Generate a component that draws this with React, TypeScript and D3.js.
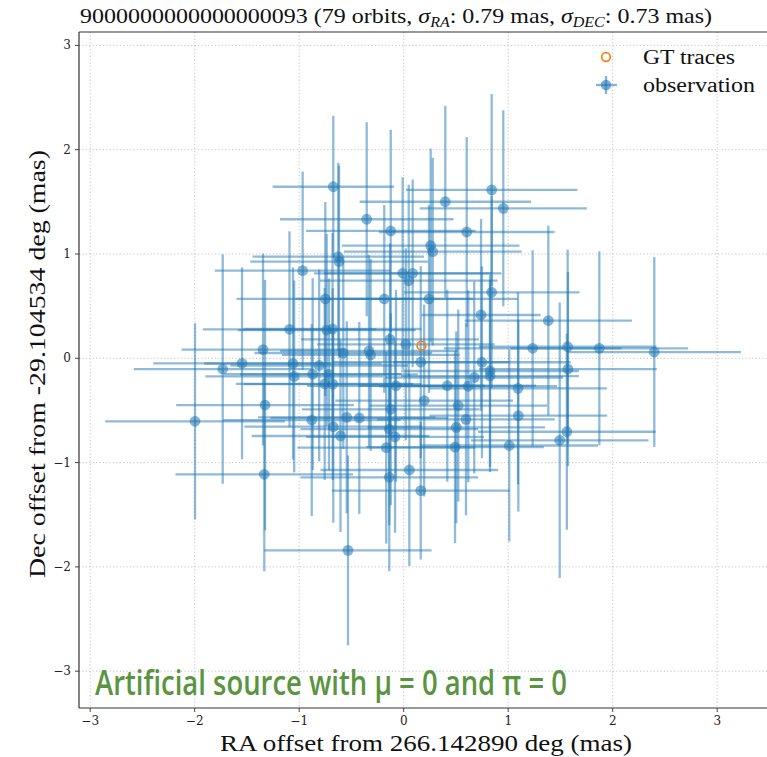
import React from "react";
import * as d3 from "d3";

// RA offsets (mas)
const raOffsets = [
  -0.674, 0.842, 0.398, 0.953, -0.354, -0.124, 0.603, 0.258, 0.278, -0.626,
  -0.619, -0.967, -0.010, 0.086, 0.048, -0.750, -0.186, 0.242, 0.842, 0.740,
  1.384, -1.093, -0.737, -0.681, -1.346, -0.578, -0.332, -0.316, -0.131, 0.020,
  1.234, 1.569, 1.872, 2.398, 0.163, -1.547, -1.732, -1.059, -1.048, -0.871,
  -0.809, -0.715, -0.756, -0.679, 0.749, 0.826, 0.826, 0.675, 0.618, 0.417,
  1.094, 1.572, -0.074, -1.327, -1.997, -0.880, -0.545, -0.425, -0.674, -0.605,
  -0.124, -0.138, -0.083, -0.167, 0.196, 0.522, 1.097, 0.596, 0.503, 0.491,
  1.010, 1.493, 1.561, 0.054, -1.334, -0.138, 0.163, -0.533,
];
// Dec offsets (mas)
const decOffsets = [
  1.645, 1.614, 1.501, 1.438, 1.333, 1.221, 1.211, 1.080, 1.022, 0.974,
  0.926, 0.840, 0.815, 0.815, 0.744, 0.569, 0.569, 0.569, 0.633, 0.415,
  0.362, 0.278, 0.271, 0.281, 0.084, 0.051, 0.070, 0.032, 0.182, 0.134,
  0.096, 0.111, 0.096, 0.060, -0.037, -0.048, -0.103, -0.050, -0.174, -0.152,
  -0.069, -0.155, -0.246, -0.248, -0.038, -0.122, -0.170, -0.184, -0.268, -0.263,
  -0.288, -0.103, -0.263, -0.448, -0.604, -0.592, -0.566, -0.572, -0.656, -0.745,
  -0.489, -0.680, -0.753, -0.857, -0.405, -0.453, -0.550, -0.585, -0.662, -0.852,
  -0.836, -0.786, -0.704, -1.071, -1.112, -1.141, -1.269, -1.841,
];
// RA errors (mas)
const raErrors = [
  0.58, 0.82, 0.82, 0.80, 0.83, 0.81, 0.84, 0.85, 0.85, 0.82,
  0.85, 0.84, 0.85, 0.85, 0.85, 0.85, 0.85, 0.85, 0.84, 0.57,
  0.80, 0.83, 0.85, 0.85, 0.78, 0.85, 0.85, 0.85, 0.85, 0.85,
  0.85, 0.85, 0.85, 0.83, 0.85, 0.85, 0.85, 0.85, 0.85, 0.85,
  0.85, 0.85, 0.85, 0.85, 0.85, 0.85, 0.85, 0.85, 0.85, 0.85,
  0.85, 0.85, 0.85, 0.85, 0.86, 0.85, 0.85, 0.85, 0.85, 0.85,
  0.85, 0.85, 0.85, 0.85, 0.85, 0.85, 0.85, 0.85, 0.85, 0.85,
  0.85, 0.85, 0.85, 0.85, 0.85, 0.85, 0.85, 0.80,
];
// Dec errors (mas)
const decErrors = [
  0.68, 0.92, 0.92, 0.94, 0.93, 0.97, 0.91, 0.93, 0.90, 0.90,
  0.92, 0.95, 0.92, 0.90, 0.92, 0.93, 0.90, 0.90, 0.92, 0.92,
  0.91, 0.94, 0.92, 0.92, 0.92, 0.92, 0.92, 0.92, 0.92, 0.92,
  0.94, 0.93, 0.93, 0.91, 0.92, 0.92, 1.10, 0.92, 0.92, 0.92,
  0.92, 0.92, 0.92, 0.92, 0.92, 0.92, 0.92, 0.92, 0.92, 0.92,
  0.92, 0.93, 0.92, 1.20, 0.94, 0.92, 0.92, 0.92, 0.92, 0.92,
  0.92, 0.92, 0.92, 0.92, 0.92, 0.92, 0.92, 0.92, 0.92, 0.92,
  0.92, 1.32, 0.94, 0.92, 0.93, 0.90, 0.66, 0.91,
];
// Ground-truth trace
const gtRa = [0.17];
const gtDec = [0.121];

const tickValues = [-3, -2, -1, 0, 1, 2, 3];
const legendLabels = ["GT traces", "observation"];

const W = 767;
const H = 757;
const plotLeft = 79;
const plotRight = 800;
const plotTop = 32;
const plotBottom = 708;

const blue = "#1f77b4";
const orange = "#ff7f0e";
const serif = "'Liberation Serif', 'Times New Roman', serif";
const tickFont = "'DejaVu Serif', serif";

export default function App() {
  const x = d3.scaleLinear().domain([-3, 3]).range([90.2, 717.2]);
  const y = d3.scaleLinear().domain([-3, 3]).range([671.2, 45.4]);
  const fmt = (v: number) => (v < 0 ? "\u2212" + Math.abs(v) : String(v));
  const pts = raOffsets.map((r, i) => ({
    r,
    d: decOffsets[i],
    er: raErrors[i],
    ed: decErrors[i],
  }));

  return (
    <svg
      width={W}
      height={H}
      style={{ position: "absolute", left: 0, top: 0, background: "#fff" }}
    >
      <defs>
        <clipPath id="plotclip">
          <rect x={plotLeft} y={plotTop} width={plotRight - plotLeft} height={plotBottom - plotTop} />
        </clipPath>
      </defs>
      <rect x={0} y={0} width={W} height={H} fill="#fff" />
      {/* grid */}
      <g stroke="#b5b5b5" strokeWidth={0.8} strokeDasharray="1.2,2.2">
        {tickValues.map((t) => (
          <line key={"gx" + t} x1={x(t)} x2={x(t)} y1={plotTop} y2={plotBottom} />
        ))}
        {tickValues.map((t) => (
          <line key={"gy" + t} x1={plotLeft} x2={plotRight} y1={y(t)} y2={y(t)} />
        ))}
      </g>
      {/* error bars */}
      <g clipPath="url(#plotclip)">
        <g stroke={blue} strokeOpacity={0.5} strokeWidth={2.3}>
          {pts.map((p, i) => (
            <g key={"e" + i}>
              <line x1={x(p.r - p.er)} x2={x(p.r + p.er)} y1={y(p.d)} y2={y(p.d)} />
              <line x1={x(p.r)} x2={x(p.r)} y1={y(p.d - p.ed)} y2={y(p.d + p.ed)} />
            </g>
          ))}
        </g>
        <g fill={blue} fillOpacity={0.55}>
          {pts.map((p, i) => (
            <circle key={"m" + i} cx={x(p.r)} cy={y(p.d)} r={5.4} />
          ))}
        </g>
        {gtRa.map((r, i) => (
          <circle
            key={"gt" + i}
            cx={x(r)}
            cy={y(gtDec[i])}
            r={4.3}
            fill="none"
            stroke={orange}
            strokeWidth={1.7}
          />
        ))}
      </g>
      {/* spines */}
      <g stroke="#333" strokeWidth={1.2}>
        <line x1={plotLeft} x2={plotLeft} y1={plotTop} y2={plotBottom} />
        <line x1={plotLeft} x2={W} y1={plotBottom} y2={plotBottom} />
        <line x1={plotLeft} x2={W} y1={plotTop} y2={plotTop} />
      </g>
      {/* ticks */}
      <g stroke="#333" strokeWidth={0.9}>
        {tickValues.map((t) => (
          <line key={"tx" + t} x1={x(t)} x2={x(t)} y1={plotBottom} y2={plotBottom + 4} />
        ))}
        {tickValues.map((t) => (
          <line key={"ty" + t} x1={plotLeft - 4} x2={plotLeft} y1={y(t)} y2={y(t)} />
        ))}
      </g>
      <g fontFamily={tickFont} fontSize={12} fill="#222">
        {tickValues.map((t) => (
          <text key={"lx" + t} x={x(t)} y={plotBottom + 17} textAnchor="middle">
            {fmt(t)}
          </text>
        ))}
        {tickValues.map((t) => (
          <text key={"ly" + t} x={plotLeft - 8} y={y(t) + 4} textAnchor="end">
            {fmt(t)}
          </text>
        ))}
      </g>
      {/* title */}
      <text
        x={80}
        y={23}
        fontFamily={serif}
        fontSize={21}
        fill="#111"
        textLength={632}
        lengthAdjust="spacingAndGlyphs"
      >
        9000000000000000093 (79 orbits,{" "}
        <tspan fontStyle="italic">σ</tspan>
        <tspan fontSize={14} fontStyle="italic" dy={4}>RA</tspan>
        <tspan dy={-4}>: 0.79 mas, </tspan>
        <tspan fontStyle="italic">σ</tspan>
        <tspan fontSize={14} fontStyle="italic" dy={4}>DEC</tspan>
        <tspan dy={-4}>: 0.73 mas)</tspan>
      </text>
      {/* axis labels */}
      <text
        x={220}
        y={751}
        fontFamily={serif}
        fontSize={23}
        fill="#111"
        textLength={412}
        lengthAdjust="spacingAndGlyphs"
      >
        RA offset from 266.142890 deg (mas)
      </text>
      <text
        transform="translate(45,578) rotate(-90)"
        x={0}
        y={0}
        fontFamily={serif}
        fontSize={23}
        fill="#111"
        textLength={428}
        lengthAdjust="spacingAndGlyphs"
      >
        Dec offset from -29.104534 deg (mas)
      </text>
      {/* legend */}
      <g>
        <circle cx={606} cy={57} r={4.3} fill="none" stroke={orange} strokeWidth={1.7} />
        <g stroke={blue} strokeOpacity={0.55} strokeWidth={2.3}>
          <line x1={596} x2={617} y1={85} y2={85} />
          <line x1={606} x2={606} y1={76} y2={94} />
        </g>
        <circle cx={606} cy={85} r={5.2} fill={blue} fillOpacity={0.6} />
        <text x={643} y={64} fontFamily={serif} fontSize={20} fill="#111" textLength={92} lengthAdjust="spacingAndGlyphs">
          {legendLabels[0]}
        </text>
        <text x={643} y={92} fontFamily={serif} fontSize={20} fill="#111" textLength={112} lengthAdjust="spacingAndGlyphs">
          {legendLabels[1]}
        </text>
      </g>
      {/* annotation */}
      <text
        x={95}
        y={695}
        fontFamily="'Open Sans', 'Noto Sans', sans-serif"
        fontWeight={600}
        fontSize={34}
        fill="#5a9440"
        textLength={472}
        lengthAdjust="spacingAndGlyphs"
      >
        Artificial source with μ = 0 and π = 0
      </text>
    </svg>
  );
}
